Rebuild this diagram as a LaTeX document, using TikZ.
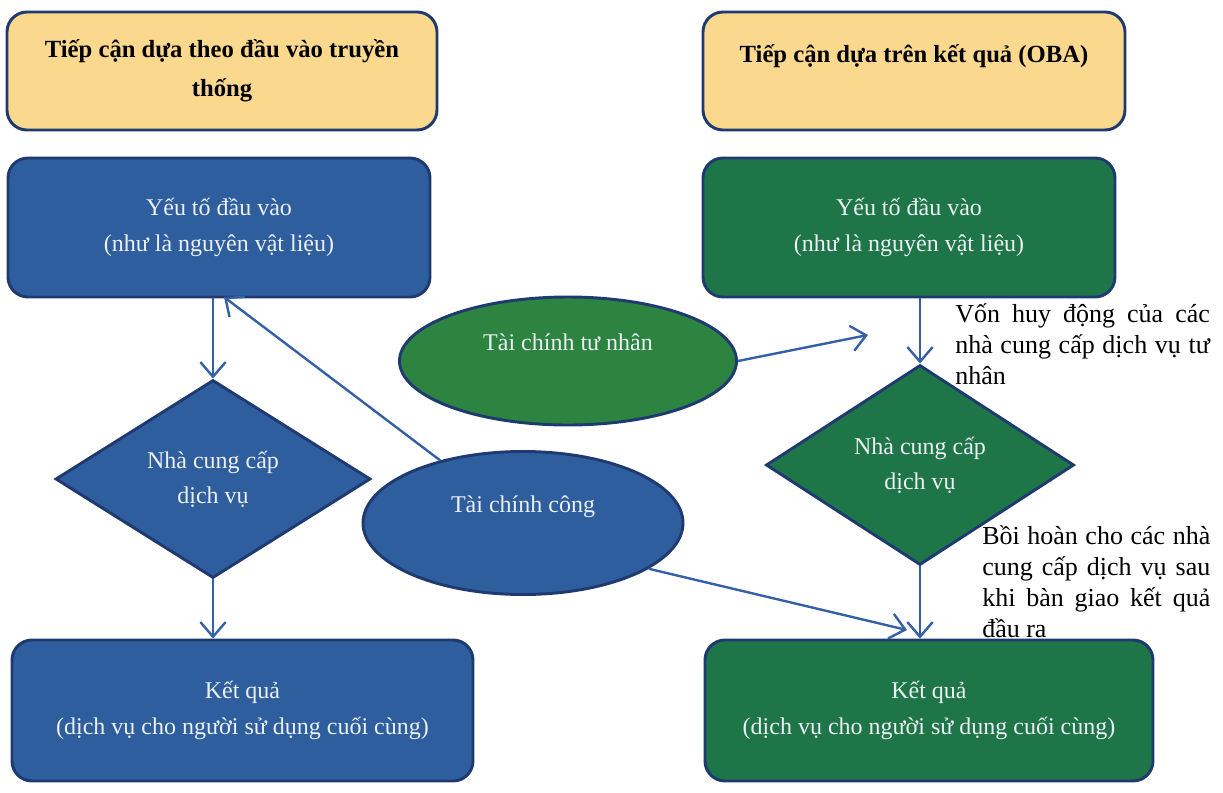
\documentclass[tikz,border=0pt]{standalone}
\usepackage{fontspec}
\setmainfont{Liberation Serif}
\usetikzlibrary{arrows.meta}
\usetikzlibrary{shapes.geometric}

\definecolor{navyline}{RGB}{31,58,112}
\definecolor{flowblue}{RGB}{46,94,158}
\definecolor{flowgreen}{RGB}{30,118,72}
\definecolor{ovalgreen}{RGB}{44,132,64}
\definecolor{titlefill}{RGB}{250,216,142}
\definecolor{arrowblue}{RGB}{52,96,168}
\definecolor{lighttext}{RGB}{236,240,244}

\begin{document}
\begin{tikzpicture}[x=0.75pt,y=0.75pt,yscale=-1,xscale=1,
  shapeline/.style={draw=navyline,line width=2.2pt},
  titlebox/.style={shapeline,fill=titlefill,rounded corners=15pt,align=center,font=\fontsize{18.5}{29}\selectfont\bfseries},
  flowbox/.style={shapeline,rounded corners=15pt,align=center,text=lighttext,font=\fontsize{18}{27}\selectfont},
  bluebox/.style={flowbox,fill=flowblue},
  greenbox/.style={flowbox,fill=flowgreen},
  provdiamond/.style={shapeline,diamond,shape aspect=1.55,inner sep=1pt,align=center,text=lighttext,font=\fontsize{18}{26}\selectfont},
  finoval/.style={shapeline,ellipse,inner sep=1pt,text=lighttext,font=\fontsize{18}{27}\selectfont,text height=15pt,text depth=31pt},
  note/.style={anchor=north west,inner sep=0pt,align=left,font=\fontsize{19.5}{23.25}\selectfont},
  flowarrow/.style={draw=arrowblue,line width=1.8pt,-{Straight Barb[length=11pt,width=19pt]}}
]
\useasboundingbox (0,0) rectangle (1223,792);

%Shape: Rounded Rect [titles]
\node[titlebox,minimum width=322.5pt,minimum height=88.5pt] (ltitle) at (222,71) {Tiếp cận dựa theo đầu vào truyền\\thống};
\node[titlebox,minimum width=316.5pt,minimum height=88.5pt,text height=15pt,text depth=28pt] (rtitle) at (914,71) {Tiếp cận dựa trên kết quả (OBA)};

%Shape: Rounded Rect [inputs]
\node[bluebox,minimum width=316.5pt,minimum height=104.25pt] (lin) at (219,227.5) {Yếu tố đầu vào\\(như là nguyên vật liệu)};
\node[greenbox,minimum width=309pt,minimum height=104.25pt] (rin) at (909,227.5) {Yếu tố đầu vào\\(như là nguyên vật liệu)};

%Shape: Diamond
\node[provdiamond,fill=flowblue,minimum width=236.25pt,minimum height=148.5pt] (lprov) at (213,479) {Nhà cung cấp\\dịch vụ};
\node[provdiamond,fill=flowgreen,minimum width=231pt,minimum height=150pt] (rprov) at (920,465) {Nhà cung cấp\\dịch vụ};

%Shape: Rounded Rect [outputs]
\node[bluebox,minimum width=345.75pt,minimum height=105.75pt] (lout) at (242.5,710.5) {Kết quả\\(dịch vụ cho người sử dụng cuối cùng)};
\node[greenbox,minimum width=336pt,minimum height=105.75pt] (rout) at (929,710.5) {Kết quả\\(dịch vụ cho người sử dụng cuối cùng)};

%Shape: Ellipse
\node[finoval,fill=ovalgreen,minimum width=252.75pt,minimum height=96pt] (priv) at (568,361) {Tài chính tư nhân};
\node[finoval,fill=flowblue,minimum width=240pt,minimum height=107.25pt] (pub) at (523,523) {Tài chính công};

%Straight Lines
\coordinate (lhit) at (224,297);
\coordinate (rhit) at (868,335);
\coordinate (rhit2) at (907,630);
\draw[flowarrow] (lprov.north |- lin.south) -- (lprov.north);
\draw[flowarrow] (lprov.south) -- (lprov.south |- lout.north);
\draw[flowarrow] (pub) -- (lhit);
\draw[flowarrow] (priv.east) -- (rhit);
\draw[flowarrow] (rprov.north |- rin.south) -- (rprov.north);
\draw[flowarrow] (rprov.south) -- (rprov.south |- rout.north);
\draw[flowarrow] (pub.-20) -- (rhit2);

% Text Node
\node[note] (vonnote) at (955,303) {\makebox[191pt][s]{Vốn huy động của các}\\\makebox[191pt][s]{nhà cung cấp dịch vụ tư}\\nhân};
% Text Node
\node[note] (hoannote) at (982,525) {\makebox[171pt][s]{Bồi hoàn cho các nhà}\\\makebox[171pt][s]{cung cấp dịch vụ sau}\\\makebox[171pt][s]{khi bàn giao kết quả}\\đầu ra};

\end{tikzpicture}
\end{document}
